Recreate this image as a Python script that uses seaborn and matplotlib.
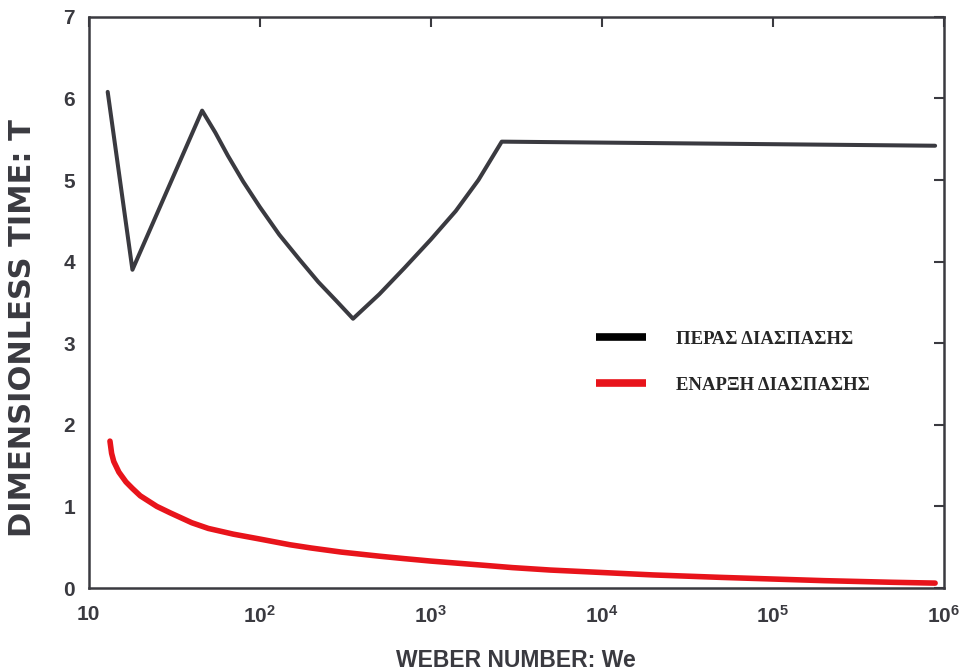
import matplotlib
matplotlib.use("Agg")
import matplotlib.pyplot as plt
import seaborn as sns
import pandas as pd
from matplotlib.ticker import FixedLocator, FixedFormatter, NullLocator

# ---- data ----
end_label = "ΠΕΡΑΣ ΔΙΑΣΠΑΣΗΣ"
start_label = "ΕΝΑΡΞΗ ΔΙΑΣΠΑΣΗΣ"

end_we = [12.9, 18, 46, 55, 65, 80, 100, 130, 170, 220, 280, 351,
          500, 700, 1000, 1400, 1900, 2600, 8.9e5]
end_t = [6.08, 3.9, 5.85, 5.58, 5.3, 4.98, 4.67, 4.33, 4.03, 3.75, 3.52, 3.3,
         3.6, 3.92, 4.27, 4.62, 5.0, 5.47, 5.42]

start_we = [13.3, 13.6, 14, 15, 16.5, 18, 20, 25, 30, 40, 50, 70, 100, 150, 200,
            300, 500, 700, 1000, 2000, 3000, 5000, 1e4, 2e4, 5e4, 1e5, 2e5, 5e5, 8.9e5]
start_t = [1.8, 1.65, 1.55, 1.42, 1.3, 1.22, 1.13, 1.0, 0.92, 0.8, 0.73, 0.66, 0.6, 0.53, 0.49,
           0.44, 0.39, 0.36, 0.33, 0.28, 0.25, 0.22, 0.19, 0.16, 0.13, 0.11, 0.09, 0.07, 0.06]

x_ticks = [10, 1e2, 1e3, 1e4, 1e5, 1e6]
x_tick_labels = ["10", r"$\mathbf{10^{2}}$", r"$\mathbf{10^{3}}$", r"$\mathbf{10^{4}}$",
                 r"$\mathbf{10^{5}}$", r"$\mathbf{10^{6}}$"]
y_ticks = [0, 1, 2, 3, 4, 5, 6, 7]

df = pd.concat([
    pd.DataFrame({"We": end_we, "T": end_t, "series": end_label}),
    pd.DataFrame({"We": start_we, "T": start_t, "series": start_label}),
], ignore_index=True)

sns.set_style("white")
plt.rcParams["font.family"] = ["Liberation Sans", "DejaVu Sans"]
plt.rcParams["mathtext.fontset"] = "custom"
plt.rcParams["mathtext.bf"] = "Liberation Sans:bold"
plt.rcParams["mathtext.rm"] = "Liberation Sans"

ink = "#3a3a40"
fig = plt.figure(figsize=(9.65, 6.72), dpi=100)
ax = fig.add_axes([0.092, 0.125, 0.886, 0.85])

palette = {end_label: ink, start_label: "#e8141b"}
sns.lineplot(data=df, x="We", y="T", hue="series", palette=palette,
             estimator=None, sort=False, ax=ax, legend=True)
for line, lw in zip(ax.get_lines(), [2.9, 4.0]):
    line.set_linewidth(lw)
    line.set_solid_capstyle("round")
    line.set_solid_joinstyle("round")

ax.set_xscale("log")
ax.set_xlim(10, 1e6)
ax.set_ylim(0, 7)
ax.xaxis.set_major_locator(FixedLocator(x_ticks))
ax.xaxis.set_major_formatter(FixedFormatter(x_tick_labels))
ax.xaxis.set_minor_locator(NullLocator())
ax.set_yticks(y_ticks)
ax.set_yticklabels([str(v) for v in y_ticks])

for s in ax.spines.values():
    s.set_color(ink)
    s.set_linewidth(1.8)
ax.tick_params(axis="both", which="major", direction="in", length=7, width=1.5,
               color=ink, top=True, right=True, labelsize=15, labelcolor=ink)
ax.tick_params(axis="x", pad=12)
ax.tick_params(axis="y", pad=10)
for lab in ax.get_xticklabels() + ax.get_yticklabels():
    lab.set_fontweight("bold")

ax.set_xlabel("WEBER NUMBER: We", fontsize=16.5, fontweight="bold", color=ink, labelpad=16)
ax.set_ylabel("DIMENSIONLESS TIME: T", fontsize=22, fontweight="bold", color=ink,
              family=["DejaVu Sans"])
ax.yaxis.set_label_coords(-0.06, 0.455)

leg = ax.legend(loc="upper left", bbox_to_anchor=(0.573, 0.48), frameon=False,
                prop={"family": "Liberation Serif", "weight": "bold", "size": 13.5},
                handlelength=2.7, handletextpad=1.6, labelspacing=1.55)
colors = ["#000000", "#e8141b"]
for h, c in zip(leg.get_lines(), colors):
    h.set_linewidth(5.5)
    h.set_color(c)
    h.set_solid_capstyle("butt")

fig.savefig("out.png", dpi=100, facecolor="white")
